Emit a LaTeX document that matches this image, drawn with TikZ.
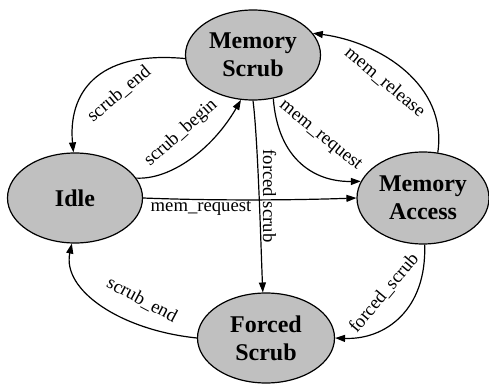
\documentclass[tikz,border=0pt]{standalone}
\usepackage{fontspec}
\setmainfont{Liberation Serif}
\usetikzlibrary{shapes.geometric,arrows.meta}
\definecolor{nodegray}{HTML}{C0C0C0}
\tikzset{
  state/.style={ellipse, draw, line width=1.2pt, fill=nodegray, inner sep=0pt,
    minimum width=135pt, minimum height=90pt, align=center,
    font=\fontsize{24}{28}\selectfont\bfseries},
  trans/.style={line width=1.2pt, -{Triangle[length=10pt,width=7pt]}},
  lbl/.style={inner sep=0pt, font=\fontsize{18.67}{20}\selectfont}
}
\begin{document}
\begin{tikzpicture}[x=1pt,y=-1pt]
\useasboundingbox (0,0) rectangle (489,385);
\node[state] (ms)   at (253,55)  {Memory\\Scrub};
\node[state] (idle) at (75,198)  {Idle};
\node[state, minimum width=132pt, minimum height=92pt] (ma) at (423,198) {Memory\\Access};
\node[state, minimum width=137pt] (fs) at (266,338) {Forced\\Scrub};

\draw[trans] (ms.183) .. controls (95,50) and (68,95) .. (idle.92);
\draw[trans] (idle.18) .. controls (170,180) and (212,150) .. (ms.255);
\draw[trans] (idle.0) .. controls (220,201) and (300,200) .. (ma.180);
\draw[trans] (ms.270) .. controls (258,140) and (261,250) .. (fs.94);
\draw[trans] (ms.295) .. controls (278,160) and (315,182) .. (ma.165);
\draw[trans] (ma.72) .. controls (448,85) and (380,42) .. (ms.20);
\draw[trans] (ma.272) .. controls (427,310) and (385,340) .. (fs.0);
\draw[trans] (fs.180) .. controls (120,330) and (62,290) .. (idle.266);

\node[lbl, rotate=40]  (l1) at (119,94)  {scrub\_end};
\node[lbl, rotate=42]  (l2) at (181,133) {scrub\_begin};
\node[lbl]             (l3) at (201,208) {mem\_request};
\node[lbl, rotate=-90] (l4) at (269.5,196) {forced scrub};
\node[lbl, rotate=-39] (l5) at (320,136) {mem\_request};
\node[lbl, rotate=-40] (l6) at (385,82)  {mem\_release};
\node[lbl, rotate=50]  (l7) at (384,293) {forced\_scrub};
\node[lbl, rotate=-28] (l8) at (142,300) {scrub\_end};
\end{tikzpicture}
\end{document}
